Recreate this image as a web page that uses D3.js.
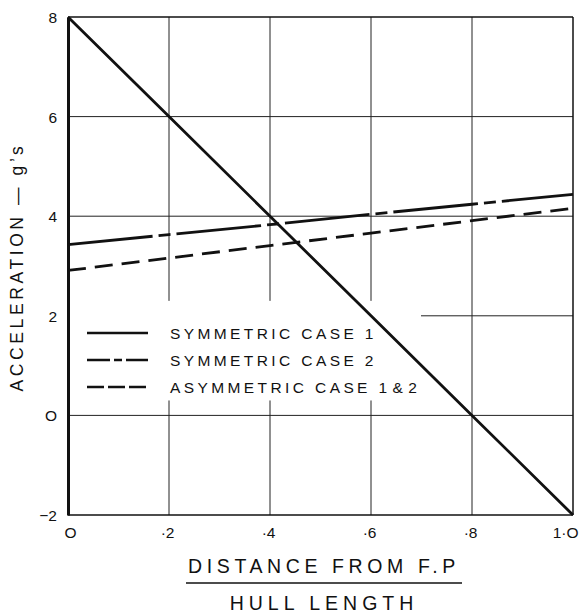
<!DOCTYPE html>
<html>
<head>
<meta charset="utf-8">
<script src="https://cdn.jsdelivr.net/npm/d3@7"></script>
<style>
  html, body { margin: 0; padding: 0; background: #fff; }
  svg { display: block; }
  text { font-family: "Liberation Sans", Arial, sans-serif; fill: #111; }
</style>
</head>
<body>
<svg id="chart" width="586" height="615"></svg>
<script>
// Position along hull (fraction of hull length from F.P.)
const stations = [0, 0.2, 0.4, 0.6, 0.8, 1.0];
// Acceleration in g's at each station
const symmetricCase1 = [8, 6, 4, 2, 0, -2];
const symmetricCase2 = [3.43, 3.63, 3.83, 4.04, 4.24, 4.44];
const asymmetricCase12 = [2.91, 3.16, 3.41, 3.66, 3.91, 4.16];

const xTicks = [0, 0.2, 0.4, 0.6, 0.8, 1.0];
const xTickLabels = ["O", "·2", "·4", "·6", "·8", "1·O"];
const yTicks = [-2, 0, 2, 4, 6, 8];
const yTickLabels = ["−2", "O", "2", "4", "6", "8"];

// Legend names: main part and the compact case-number suffix
const seriesNames = [["SYMMETRIC CASE 1", ""], ["SYMMETRIC CASE 2", ""], ["ASYMMETRIC CASE ", "1 & 2"]];

const svg = d3.select("#chart");
const plotLeft = 68, plotRight = 573, plotTop = 17, plotBottom = 515;

const x = d3.scaleLinear().domain([0, 1]).range([plotLeft, plotRight]);
const y = d3.scaleLinear().domain([-2, 8]).range([plotBottom, plotTop]);

// Grid lines
const grid = svg.append("g").attr("stroke", "#222").attr("stroke-width", 1);
grid.selectAll("line.v").data(xTicks.slice(1, -1)).join("line").attr("class", "v")
  .attr("x1", d => x(d)).attr("x2", d => x(d))
  .attr("y1", plotTop).attr("y2", plotBottom);
grid.selectAll("line.h").data(yTicks.slice(1, -1)).join("line").attr("class", "h")
  .attr("x1", plotLeft).attr("x2", plotRight)
  .attr("y1", d => y(d)).attr("y2", d => y(d));

// Frame
svg.append("line").attr("x1", plotLeft).attr("x2", plotRight).attr("y1", plotTop).attr("y2", plotTop)
  .attr("stroke", "#111").attr("stroke-width", 1.5);
svg.append("line").attr("x1", plotRight).attr("x2", plotRight).attr("y1", plotTop).attr("y2", plotBottom)
  .attr("stroke", "#111").attr("stroke-width", 1.5);
svg.append("line").attr("x1", plotLeft).attr("x2", plotRight).attr("y1", plotBottom).attr("y2", plotBottom)
  .attr("stroke", "#111").attr("stroke-width", 1.5);

// Legend background blanks the grid behind the key
svg.append("rect")
  .attr("x", plotLeft + 1).attr("y", y(2.3)).attr("width", 352).attr("height", y(0.3) - y(2.3))
  .attr("fill", "#fff");

// Left axis (heavy) with labels
const yAxis = d3.axisLeft(y).tickValues(yTicks)
  .tickFormat((d, i) => yTickLabels[i]).tickSize(0).tickPadding(11);
const yg = svg.append("g").attr("transform", `translate(${plotLeft},0)`).call(yAxis);
yg.select(".domain").attr("stroke", "#111").attr("stroke-width", 3);
yg.selectAll("text").attr("font-size", 15.5).attr("dy", "0.36em")
  .style("font-family", "Liberation Sans, Arial, sans-serif").attr("fill", "#111");

// Bottom axis labels
const xAxis = d3.axisBottom(x).tickValues(xTicks)
  .tickFormat((d, i) => xTickLabels[i]).tickSize(0).tickPadding(12);
const xg = svg.append("g").attr("transform", `translate(0,${plotBottom})`).call(xAxis);
xg.select(".domain").remove();
xg.selectAll("text").attr("font-size", 15.5)
  .style("font-family", "Liberation Sans, Arial, sans-serif").attr("fill", "#111")
  .attr("text-anchor", (d, i) => i === 0 ? "middle" : "end")
  .attr("dx", (d, i) => i === 0 ? 2 : 5);

// Data lines
const line = d3.line().x((d, i) => x(stations[i])).y(d => y(d));
const styles = [
  { data: symmetricCase1, dash: null, legendDash: null },
  { data: symmetricCase2, dash: "85,6,12,6", legendDash: "23,4,8,4" },
  { data: asymmetricCase12, dash: "18,9", legendDash: "17,4" }
];
svg.append("g").selectAll("path").data(styles).join("path")
  .attr("d", d => line(d.data))
  .attr("fill", "none").attr("stroke", "#111").attr("stroke-width", 2.8)
  .attr("stroke-dasharray", d => d.dash);

// Legend
const legend = svg.append("g");
const rowY = [333, 360, 387];
styles.forEach((s, i) => {
  legend.append("line")
    .attr("x1", 87).attr("x2", 148).attr("y1", rowY[i]).attr("y2", rowY[i])
    .attr("stroke", "#111").attr("stroke-width", 2.4)
    .attr("stroke-dasharray", s.legendDash);
  const t = legend.append("text")
    .attr("x", 170).attr("y", rowY[i]).attr("dy", "0.36em")
    .attr("font-size", 15.5);
  t.append("tspan").attr("letter-spacing", 3.4).text(seriesNames[i][0]);
  if (seriesNames[i][1]) t.append("tspan").attr("letter-spacing", 0.5).text(seriesNames[i][1]);
});

// Axis titles
svg.append("text")
  .attr("transform", `translate(17,267) rotate(-90)`)
  .attr("text-anchor", "middle").attr("dy", "0.36em")
  .attr("font-size", 17.5).attr("letter-spacing", 3.6)
  .text("ACCELERATION — g’s");

svg.append("text")
  .attr("x", 324).attr("y", 573).attr("text-anchor", "middle")
  .attr("font-size", 19.5).attr("letter-spacing", 4.6)
  .text("DISTANCE FROM F.P");
svg.append("line").attr("x1", 186).attr("x2", 462).attr("y1", 583).attr("y2", 583)
  .attr("stroke", "#111").attr("stroke-width", 1.5);
svg.append("text")
  .attr("x", 324).attr("y", 610).attr("text-anchor", "middle")
  .attr("font-size", 19.5).attr("letter-spacing", 5)
  .text("HULL LENGTH");
</script>
</body>
</html>
